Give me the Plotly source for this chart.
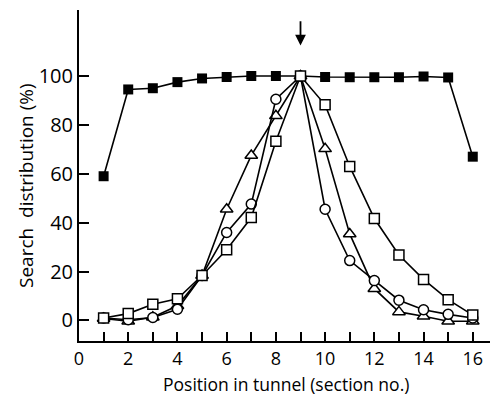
import plotly.graph_objects as go

sections = list(range(1, 17))
total = [59, 94.5, 95, 97.5, 99, 99.6, 100, 100, 100, 99.6, 99.5, 99.5, 99.5, 99.8, 99.4, 67]
open_sq = [1, 2.8, 6.6, 8.9, 18.4, 28.9, 42.1, 73.3, 100, 88.2, 63, 41.7, 26.8, 16.8, 8.5, 2.2]
circles = [1, 0.3, 1.2, 4.6, 18.4, 36, 47.6, 90.5, 100, 45.5, 24.5, 16.3, 8.3, 4.4, 2.5, 1]
triangles = [0.8, -0.3, 1.3, 6, 18.4, 45.5, 67.5, 83.7, 100, 70.2, 35.4, 13, 3.5, 1.7, -0.3, -0.3]
xticks = list(range(0, 17))
xlabels = [str(v) if v % 2 == 0 else "" for v in xticks]
yticks = [0, 20, 40, 60, 80, 100]

FONT = "Open Sans"
fig = go.Figure()
lw = 1.6
fig.add_trace(go.Scatter(x=sections, y=total, mode="lines+markers",
                         line=dict(color="black", width=lw),
                         marker=dict(symbol="square", size=10, color="black")))
fig.add_trace(go.Scatter(x=sections, y=triangles, mode="lines+markers",
                         line=dict(color="black", width=lw),
                         marker=dict(symbol="triangle-up", size=11, color="white",
                                     line=dict(color="black", width=1.5))))
fig.add_trace(go.Scatter(x=sections, y=circles, mode="lines+markers",
                         line=dict(color="black", width=lw),
                         marker=dict(symbol="circle", size=10, color="white",
                                     line=dict(color="black", width=1.5))))
fig.add_trace(go.Scatter(x=sections, y=open_sq, mode="lines+markers",
                         line=dict(color="black", width=lw),
                         marker=dict(symbol="square", size=10, color="white",
                                     line=dict(color="black", width=1.5))))

fig.add_annotation(x=9, y=112.5, ax=9, ay=123, xref="x", yref="y", axref="x", ayref="y",
                   showarrow=True, arrowhead=2, arrowsize=1.2, arrowwidth=1.8,
                   arrowcolor="black", text="")

B = 341  # pixel row of x axis line
H = B - 10
fig.add_annotation(text="Position in tunnel (section no.)", xref="paper", yref="paper",
                   x=(286 - 79) / 411, y=-(384 - B) / H, xanchor="center", yanchor="middle",
                   showarrow=False, font=dict(family=FONT, size=17.5, color="black"))
fig.add_annotation(text="Search  distribution (%)", xref="paper", yref="paper",
                   x=-(79 - 26) / 411, y=(B - 186) / H, xanchor="center", yanchor="middle",
                   textangle=-90, showarrow=False,
                   font=dict(family=FONT, size=19, color="black"))

fig.update_xaxes(range=[0, 16.7], tickvals=xticks, ticktext=xlabels,
                 ticks="inside", ticklen=9, tickwidth=1.5, tickcolor="black",
                 showline=True, linecolor="black", linewidth=2, showgrid=False,
                 zeroline=False, tickfont=dict(family=FONT, size=18, color="black"))
fig.update_yaxes(range=[-8.4, 127], tickvals=yticks,
                 ticks="inside", ticklen=10, tickwidth=1.5, tickcolor="black",
                 showline=True, linecolor="black", linewidth=2, showgrid=False,
                 zeroline=False, tickfont=dict(family=FONT, size=20, color="black"))
fig.update_layout(width=492, height=395, showlegend=False,
                  margin=dict(l=79, r=2, t=10, b=395 - B),
                  plot_bgcolor="white", paper_bgcolor="white")
fig.write_html("out.html")
